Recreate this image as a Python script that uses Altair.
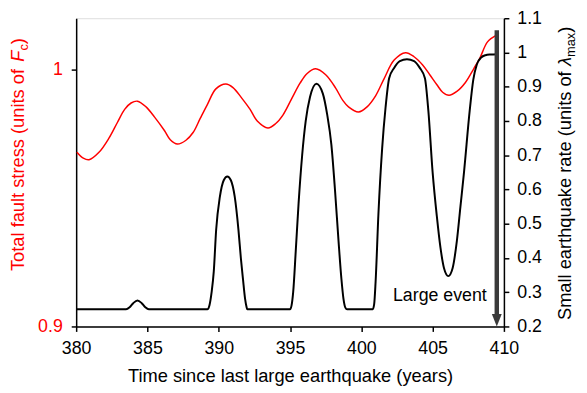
import altair as alt
import pandas as pd

# ---------------- data ----------------
red_years = [380.05, 380.5, 380.9, 381.6, 382.3, 382.9, 383.4, 383.85, 384.3, 384.9,
             385.5, 386.2, 386.6, 387.1, 387.7, 388.2, 388.7, 389.2, 389.8, 390.5,
             391.0, 391.6, 392.2, 392.7, 393.45, 394.0, 394.5, 395.1, 395.7, 396.2,
             396.8, 397.5, 398.2, 398.7, 399.1, 399.8, 400.4, 401.0, 401.6, 402.3,
             403.1, 403.7, 404.3, 404.8, 405.3, 405.7, 406.15, 406.7, 407.3, 407.9,
             408.3, 408.85, 409.45]
red_stress = [0.9678, 0.9655, 0.9649, 0.9678, 0.9733, 0.9795, 0.9845, 0.9870, 0.9877, 0.9855,
              0.9815, 0.9762, 0.9727, 0.9710, 0.9725, 0.9755, 0.9810, 0.9864, 0.9925, 0.9944,
              0.9930, 0.9890, 0.9845, 0.9800, 0.9773, 0.9790, 0.9823, 0.9885, 0.9947, 0.9985,
              1.0003, 0.9980, 0.9928, 0.9880, 0.9855, 0.9835, 0.9855, 0.9898, 0.9965, 1.0037,
              1.0066, 1.0050, 1.0018, 0.9980, 0.9941, 0.9912, 0.9900, 0.9915, 0.9950, 1.0005,
              1.0043, 1.0108, 1.0133]

black_years = [380.0, 383.5, 383.75, 384.0, 384.3, 384.6, 384.85, 385.1,
               389.2, 389.35, 389.5, 389.65, 389.82, 390.08, 390.35, 390.6, 390.85, 391.12,
               391.38, 391.55, 391.7, 391.85, 391.95, 392.0,
               395.0, 395.1, 395.22, 395.4, 395.6, 395.85, 396.1, 396.4, 396.85,
               397.3, 397.6, 397.9, 398.15, 398.4, 398.6, 398.75, 398.88, 399.0,
               400.8, 400.9, 401.0, 401.2, 401.46, 401.7, 401.95, 402.3, 402.7, 403.2,
               403.7, 404.1, 404.46, 404.7, 405.0, 405.3, 405.55, 405.8, 406.1, 406.4,
               406.7, 406.95, 407.2, 407.6, 407.85, 408.1, 408.4, 408.7, 409.0, 409.6]
black_rate = [0.25, 0.25, 0.256, 0.268, 0.276, 0.268, 0.256, 0.25,
              0.25, 0.262, 0.30, 0.36, 0.483, 0.579, 0.627, 0.638, 0.627, 0.579,
              0.483, 0.40, 0.338, 0.28, 0.257, 0.25,
              0.25, 0.26, 0.30, 0.42, 0.56, 0.70, 0.80, 0.87, 0.909,
              0.88, 0.82, 0.73, 0.60, 0.45, 0.34, 0.28, 0.255, 0.25,
              0.25, 0.265, 0.33, 0.53, 0.72, 0.84, 0.925, 0.955, 0.975, 0.98,
              0.975, 0.955, 0.925, 0.83, 0.65, 0.52, 0.43, 0.37, 0.347, 0.37,
              0.45, 0.55, 0.65, 0.83, 0.92, 0.965, 0.985, 0.992, 0.994, 0.995]

x_ticks = [380, 385, 390, 395, 400, 405, 410]
left_ticks = [0.9, 1.0]
right_ticks = [0.2, 0.3, 0.4, 0.5, 0.6, 0.7, 0.8, 0.9, 1.0, 1.1]

arrow_year = [409.5]
arrow_top = [1.065]
arrow_bottom = [0.235]
arrow_head = [0.218]

event_text = ["Large event"]
event_year = [408.8]
event_rate = [0.289]

x_title = "Time since last large earthquake (years)"
left_title_parts = ["Total fault stress (units of ", "F", "c", ")"]
right_title_parts = ["Small earthquake rate (units of ", "\u03bb", "max", ")"]

# ---------------- style ----------------
FONT = "Liberation Sans"
RED = "#ff0000"
DARK = "#3a3a3a"
W, H = 433, 312
TFS = 18.5   # title font size
SFS = 13     # subscript font size

common_axis = dict(domainColor="black", domainWidth=1.5, tickColor="black", tickWidth=1.5,
                   tickSize=5, labelFont=FONT, labelFontSize=18, grid=False,
                   labelFlush=False, labelOverlap=False)

xscale = alt.Scale(domain=[380, 410], nice=False, zero=False)
xaxis = alt.Axis(values=x_ticks, title=x_title, labelColor="black", labelPadding=8.5,
                 titleFont=FONT, titleFontSize=TFS, titleFontWeight="normal",
                 titleColor="black", titlePadding=9, **common_axis)
lscale = alt.Scale(domain=[0.9, 1.02], nice=False, zero=False)
laxis = alt.Axis(orient="left", values=left_ticks, format="~g", title=None,
                 labelColor=RED, labelPadding=9, **common_axis)
rscale = alt.Scale(domain=[0.2, 1.1], nice=False, zero=False)
raxis = alt.Axis(orient="right", values=right_ticks, format="~g", title=None,
                 labelColor="black", labelPadding=8, **common_axis)

one = pd.DataFrame({"k": [0]})


def title_pieces(parts, bx, center, color, widths):
    total = sum(widths)
    y = center + total / 2
    marks = []
    styles = [("normal", TFS, 0), ("italic", TFS, 0), ("normal", SFS, 4), ("normal", TFS, 0)]
    for txt, w, (st, fs, sh) in zip(parts, widths, styles):
        marks.append(
            alt.Chart(one).mark_text(angle=270, align="left", baseline="alphabetic",
                                     font=FONT, fontSize=fs, fontStyle=st, color=color)
            .encode(x=alt.value(bx + sh), y=alt.value(y), text=alt.value(txt))
        )
        y -= w
    return marks


left_w = [11.449 * TFS, 0.611 * TFS, 0.5 * SFS, 0.333 * TFS]
right_w = [13.895 * TFS, 0.5 * TFS, 1.889 * SFS, 0.333 * TFS]

# ---------------- left (stress) ----------------
red_df = pd.DataFrame({"year": red_years, "stress": red_stress})
red = alt.Chart(red_df).mark_line(color=RED, strokeWidth=1.5, interpolate="catmull-rom").encode(
    x=alt.X("year:Q", scale=xscale, axis=xaxis),
    y=alt.Y("stress:Q", scale=lscale, axis=laxis),
)
left_layer = alt.layer(red, *title_pieces(left_title_parts, -53, 138, RED, left_w))

# ---------------- right (rate) ----------------
black_df = pd.DataFrame({"year": black_years, "rate": black_rate})
black = alt.Chart(black_df).mark_line(color="black", strokeWidth=2, interpolate="monotone").encode(
    x=alt.X("year:Q", scale=xscale, axis=xaxis),
    y=alt.Y("rate:Q", scale=rscale, axis=raxis),
)
arrow_df = pd.DataFrame({"year": arrow_year, "rate": arrow_top, "rate2": arrow_bottom})
arrow = alt.Chart(arrow_df).mark_rule(color=DARK, strokeWidth=4.5, strokeCap="butt").encode(
    x=alt.X("year:Q", scale=xscale, axis=xaxis),
    y=alt.Y("rate:Q", scale=rscale, axis=raxis),
    y2="rate2:Q",
)
head_df = pd.DataFrame({"year": arrow_year, "rate": arrow_head})
head = alt.Chart(head_df).mark_point(shape="M-0.8,-1L0.8,-1L0,1Z", filled=True, size=156,
                                     color=DARK, opacity=1, strokeWidth=0).encode(
    x=alt.X("year:Q", scale=xscale, axis=xaxis),
    y=alt.Y("rate:Q", scale=rscale, axis=raxis),
)
ev_df = pd.DataFrame({"year": event_year, "rate": event_rate, "t": event_text})
ev = alt.Chart(ev_df).mark_text(align="right", baseline="middle", font=FONT, fontSize=18,
                                color="black").encode(
    x=alt.X("year:Q", scale=xscale, axis=xaxis),
    y=alt.Y("rate:Q", scale=rscale, axis=raxis),
    text="t:N",
)
right_layer = alt.layer(black, arrow, head, ev,
                        *title_pieces(right_title_parts, 501, 157, "black", right_w))

chart = (
    alt.layer(left_layer, right_layer)
    .resolve_scale(y="independent")
    .properties(width=W, height=H, autosize=alt.AutoSizeParams(type="none"),
                padding={"left": 69, "top": 8, "right": 76, "bottom": 65})
    .configure_view(stroke="black", strokeWidth=1.5)
    .configure(background="white")
)

chart.save("out.html", embed_options={"renderer": "svg", "actions": False})
